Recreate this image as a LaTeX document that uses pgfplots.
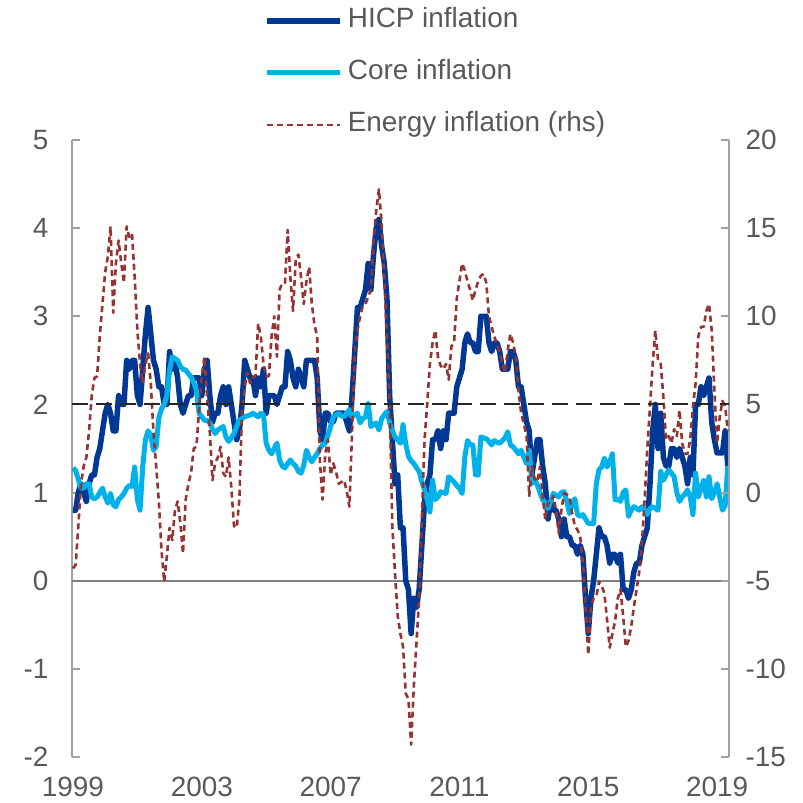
\documentclass[border=0pt]{standalone}
\usepackage{fontspec}
\setmainfont{Liberation Sans}
\usepackage{pgfplots}
\usepackage{pgfplotstable}
\pgfplotsset{compat=1.18}

\definecolor{hicp}{RGB}{0,56,148}
\definecolor{core}{RGB}{0,177,234}
\definecolor{energy}{RGB}{150,52,52}
\definecolor{axgray}{RGB}{160,160,160}
\definecolor{zerogray}{RGB}{128,128,128}
\definecolor{txt}{RGB}{89,89,89}

\pgfplotstableread{
m h c e
0 0.8 1.28 -4.3
1 0.8 1.25 -4.1
2 1.0 1.15 -1.9
3 1.1 1.05 0.5
4 1.0 1.05 1.5
5 0.9 1.1 2.0
6 1.1 1.1 3.5
7 1.2 0.95 5.5
8 1.2 0.93 6.5
9 1.4 0.95 6.6
10 1.5 1.0 8.9
11 1.7 1.05 10.7
12 1.9 0.95 12.5
13 2.0 0.88 13.4
14 1.9 0.99 15.1
15 1.7 0.86 10.2
16 1.7 0.84 13.0
17 2.1 0.92 14.3
18 2.0 0.95 13.0
19 2.0 0.99 11.9
20 2.5 1.05 15.1
21 2.4 1.08 14.5
22 2.5 1.07 14.7
23 2.5 1.29 12.2
24 2.1 0.92 9.2
25 2.0 0.8 7.3
26 2.4 1.3 6.2
27 2.8 1.6 7.3
28 3.1 1.7 7.9
29 2.8 1.65 6.2
30 2.5 1.48 3.4
31 2.4 1.52 1.5
32 2.2 1.85 -0.5
33 2.2 1.95 -3.3
34 2.0 2.0 -5.05
35 2.0 2.1 -3.6
36 2.6 2.39 -2.0
37 2.4 2.54 -2.7
38 2.5 2.52 -1.0
39 2.3 2.5 -0.5
40 2.0 2.43 -1.7
41 1.9 2.4 -3.45
42 2.0 2.39 -0.4
43 2.1 2.35 0.5
44 2.1 2.31 1.1
45 2.3 2.25 2.5
46 2.3 2.16 2.6
47 2.3 1.9 4.7
48 2.1 1.86 6.6
49 2.4 1.82 7.7
50 2.5 1.82 5.4
51 2.1 1.79 3.4
52 1.8 1.72 0.7
53 1.9 1.67 1.7
54 1.9 1.71 2.0
55 2.1 1.73 2.6
56 2.2 1.75 1.1
57 2.0 1.63 0.9
58 2.2 1.58 2.0
59 2.0 1.62 0.3
60 1.8 1.67 -1.9
61 1.6 1.75 -2.0
62 1.7 1.82 -0.4
63 2.0 1.84 4.7
64 2.5 1.86 6.0
65 2.4 1.87 6.8
66 2.3 1.88 6.2
67 2.3 1.9 6.5
68 2.1 1.88 6.6
69 2.3 1.86 9.6
70 2.2 1.9 8.85
71 2.4 1.88 7.3
72 1.9 1.56 6.6
73 2.1 1.48 6.6
74 2.1 1.44 8.85
75 2.1 1.5 10.0
76 2.0 1.56 7.7
77 2.1 1.37 11.5
78 2.2 1.3 11.9
79 2.2 1.28 11.9
80 2.6 1.33 14.9
81 2.5 1.37 12.2
82 2.3 1.33 10.3
83 2.2 1.3 13.2
84 2.4 1.24 13.5
85 2.3 1.22 12.2
86 2.2 1.31 10.7
87 2.5 1.48 12.0
88 2.5 1.4 12.8
89 2.5 1.35 10.7
90 2.5 1.4 9.5
91 2.3 1.44 8.85
92 1.7 1.5 1.8
93 1.6 1.54 -0.4
94 1.9 1.56 2.2
95 1.9 1.65 3.0
96 1.8 1.75 1.0
97 1.8 1.86 1.66
98 1.9 1.88 1.2
99 1.9 1.9 0.5
100 1.9 1.87 0.6
101 1.9 1.86 0.7
102 1.8 1.9 0.1
103 1.7 1.94 -0.8
104 2.1 1.86 3.4
105 2.6 1.88 8.0
106 3.1 1.9 9.2
107 3.1 1.79 10.0
108 3.2 1.84 10.6
109 3.3 1.86 10.7
110 3.6 2.01 11.1
111 3.3 1.75 11.5
112 3.7 1.77 14.3
113 4.0 1.79 16.0
114 4.1 1.71 17.2
115 3.8 1.84 15.3
116 3.6 1.88 12.2
117 3.2 1.92 8.85
118 2.1 1.79 5.06
119 1.6 1.7 -1.9
120 1.1 1.63 -4.6
121 1.2 1.6 -7.0
122 0.6 1.56 -8.0
123 0.6 1.77 -8.75
124 0.0 1.55 -11.4
125 -0.1 1.41 -11.7
126 -0.6 1.36 -14.3
127 -0.2 1.33 -11.0
128 -0.3 1.28 -8.5
129 -0.1 1.24 -6.0
130 0.4 1.12 -1.5
131 0.9 1.03 3.0
132 1.1 0.92 5.06
133 1.2 0.78 7.3
134 1.6 1.14 8.5
135 1.6 0.92 9.2
136 1.7 0.95 7.7
137 1.5 1.01 7.2
138 1.7 1.0 7.0
139 1.6 0.99 7.3
140 1.9 1.18 6.4
141 1.9 1.15 8.3
142 1.9 1.12 8.5
143 2.2 1.08 11.0
144 2.3 1.05 12.0
145 2.4 0.99 13.0
146 2.7 1.4 12.6
147 2.8 1.59 12.0
148 2.7 1.54 11.5
149 2.7 1.54 10.9
150 2.6 1.2 11.5
151 2.6 1.2 12.0
152 3.0 1.63 12.3
153 3.0 1.62 12.4
154 3.0 1.61 11.9
155 2.7 1.58 10.0
156 2.6 1.54 9.4
157 2.7 1.59 8.85
158 2.7 1.57 8.4
159 2.6 1.56 8.0
160 2.4 1.59 7.3
161 2.4 1.62 6.8
162 2.4 1.69 8.1
163 2.6 1.54 9.0
164 2.6 1.52 8.5
165 2.5 1.48 7.7
166 2.2 1.44 5.8
167 2.2 1.48 4.5
168 2.0 1.4 3.9
169 1.8 1.33 3.2
170 1.7 1.48 -0.2
171 1.2 1.1 1.5
172 1.4 1.15 0.8
173 1.6 1.09 0.6
174 1.6 1.0 1.47
175 1.3 0.92 -0.2
176 1.1 0.88 -1.55
177 0.7 0.82 -0.6
178 0.9 0.9 -0.6
179 0.8 0.99 -0.2
180 0.8 0.97 -1.0
181 0.7 0.95 -2.3
182 0.5 1.0 -1.0
183 0.7 1.01 -0.04
184 0.5 0.9 -0.1
185 0.5 0.76 -0.23
186 0.4 0.88 -1.17
187 0.4 0.93 -1.9
188 0.3 0.75 -2.12
189 0.4 0.73 -2.5
190 0.3 0.75 -4.0
191 -0.2 0.7 -6.3
192 -0.6 0.65 -9.2
193 -0.2 0.65 -6.5
194 0.0 0.65 -6.0
195 0.3 1.1 -5.9
196 0.6 1.26 -5.05
197 0.5 1.29 -5.3
198 0.5 1.39 -5.7
199 0.4 1.29 -7.2
200 0.2 1.35 -8.8
201 0.3 1.44 -8.0
202 0.3 0.92 -7.3
203 0.2 0.92 -6.0
204 0.3 0.9 -5.5
205 -0.1 1.0 -7.0
206 -0.1 1.03 -8.75
207 -0.2 0.73 -8.4
208 -0.1 0.8 -7.6
209 0.1 0.84 -6.5
210 0.2 0.82 -5.5
211 0.2 0.8 -4.5
212 0.4 0.84 -2.88
213 0.5 0.8 -0.42
214 0.6 0.75 2.5
215 1.1 0.82 4.87
216 1.7 0.84 7.3
217 2.0 0.82 9.2
218 1.5 0.8 7.5
219 1.9 1.24 7.3
220 1.4 1.14 5.4
221 1.3 1.2 3.0
222 1.3 1.26 3.2
223 1.5 1.22 2.8
224 1.5 1.18 3.6
225 1.4 1.0 3.2
226 1.5 0.9 4.68
227 1.4 0.95 2.8
228 1.3 0.98 2.2
229 1.1 1.03 2.2
230 1.4 0.95 3.0
231 1.2 0.75 4.87
232 2.0 1.22 6.2
233 2.0 0.95 8.85
234 2.2 1.05 9.4
235 2.1 1.14 9.4
236 2.2 0.95 10.3
237 2.3 1.18 10.7
238 1.8 0.93 9.2
239 1.6 1.0 5.8
240 1.45 1.1 2.8
241 1.45 0.95 4.3
242 1.45 0.8 5.2
243 1.7 0.85 4.9
244 1.3 1.3 3.5
}\data

\pgfplotsset{
  base/.style={
    scale only axis, width=657bp, height=617bp,
    xmin=1998.97, xmax=2019.37,
    axis line style={-, draw=axgray, line width=2bp},
    tick align=inside, major tick length=8bp,
    tick style={draw=axgray, line width=2bp},
    ticklabel style={font=\fontsize{28}{33}\selectfont, text=txt},
    /pgf/number format/assume math mode=true,
    line join=round,
  },
  hicpstyle/.style={draw=hicp, line width=5.5bp},
  corestyle/.style={draw=core, line width=5bp},
  energystyle/.style={draw=energy, line width=2.6bp, dash pattern=on 6bp off 4bp},
}

\begin{document}
\begin{tikzpicture}
\begin{axis}[base, name=ax,
  ymin=-2, ymax=5, ytick={-2,-1,0,1,2,3,4,5},
  axis y line*=left, axis x line*=bottom,
  x axis line style={draw=none},
  xtick={1999,2003,2007,2011,2015,2019},
  xticklabels={1999,2003,2007,2011,2015,2019},
  xtick style={draw=none},
  xticklabel style={yshift=-17bp},
  yticklabel style={xshift=-20bp},
  legend cell align=left,
  legend image code/.code={\draw[#1] (0bp,0bp) -- (73bp,0bp);},
  legend style={at={(0.2925,1)}, anchor=south west, yshift=2bp,
    draw=none, fill=none, inner sep=0pt, row sep=26bp, column sep=5bp,
    nodes={inner sep=0pt, text height=20bp, text depth=6bp, text=txt},
    font=\fontsize{28}{33}\selectfont},
]
\addplot[draw=zerogray, line width=2bp, forget plot] coordinates {(1998.97,0) (2019.37,0)};
\addplot[hicpstyle] table[x expr=1999+\thisrow{m}/12, y=h]{\data};
\addlegendentry{HICP inflation}
\addplot[corestyle] table[x expr=1999+\thisrow{m}/12, y=c]{\data};
\addlegendentry{Core inflation}
\addlegendimage{energystyle}
\addlegendentry{Energy inflation (rhs)}
\end{axis}
\begin{axis}[base,
  ymin=-15, ymax=20, ytick={-15,-10,-5,0,5,10,15,20},
  axis y line*=right, axis x line=none,
  yticklabel style={xshift=13bp},
]
\addplot[energystyle] table[x expr=1999+\thisrow{m}/12, y=e]{\data};
\addplot[draw=black!85, line width=2bp, dash pattern=on 16bp off 8bp] coordinates {(1998.97,5) (2019.37,5)};
\end{axis}
\pgfresetboundingbox
\path (ax.south west) ++(-72bp,-46bp) rectangle ++(803bp,803bp);
\end{tikzpicture}
\end{document}
